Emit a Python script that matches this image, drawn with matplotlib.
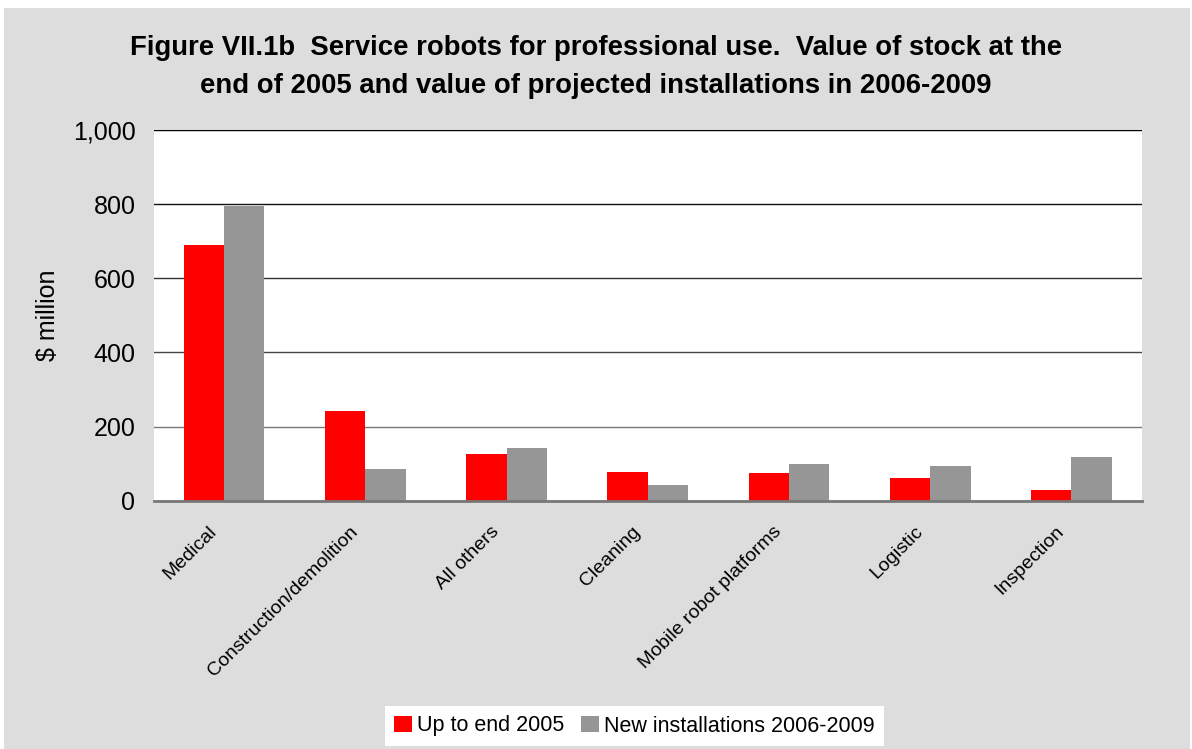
import numpy as np
import matplotlib.pyplot as plt
from matplotlib.patches import Rectangle
from matplotlib.transforms import ScaledTranslation

plt.rcParams['font.family'] = ['Liberation Sans', 'DejaVu Sans']

categories = ['Medical', 'Construction/demolition', 'All others', 'Cleaning',
              'Mobile robot platforms', 'Logistic', 'Inspection']
stock_2005 = [691, 242, 126, 78, 75, 61, 29]
new_2006_2009 = [794, 86, 142, 42, 99, 94, 118]
yticks = [0, 200, 400, 600, 800, 1000]
ytick_labels = ['0', '200', '400', '600', '800', '1,000']

fig = plt.figure(figsize=(11.92, 7.49), dpi=100)
fig.patch.set_facecolor('white')
# grey chart area inside a thin white margin
fig.patches.append(Rectangle((4 / 1192, 0), 1186 / 1192, 741 / 749,
                             transform=fig.transFigure, facecolor='#dddddd',
                             edgecolor='none', zorder=-5))

ax = fig.add_axes([153.5 / 1192, 1 - 500.7 / 749, (1142 - 153.5) / 1192, (500.7 - 130) / 749])
ax.set_facecolor('white')

x = np.arange(len(categories))
w = 1 / 3.5
ax.bar(x - w / 2, stock_2005, w, color='#ff0000', label='Up to end 2005', zorder=3)
ax.bar(x + w / 2, new_2006_2009, w, color='#969696', label='New installations 2006-2009', zorder=3)

ax.set_xlim(-0.5, len(categories) - 0.5)
ax.set_ylim(0, 1000)
ax.set_yticks(yticks)
ax.set_yticklabels(ytick_labels, fontsize=18)
ax.set_xticks(x)
ax.set_xticklabels(categories, rotation=45, ha='right', rotation_mode='anchor', fontsize=14)
ax.tick_params(length=0)
ax.tick_params(axis='y', pad=13)
ax.tick_params(axis='x', pad=12)

# slanted labels end a little left of the category centre
shift = ScaledTranslation(-16 / 100, -6 / 100, fig.dpi_scale_trans)
for lab in ax.get_xticklabels():
    lab.set_transform(lab.get_transform() + shift)

ax.yaxis.grid(True, linewidth=1.0, zorder=1)
grid_colors = ['#777777', '#777777', '#444444', '#333333', '#111111', '#000000']
for gl, c in zip(ax.get_ygridlines(), grid_colors):
    gl.set_color(c)
for s in ['left', 'right', 'top']:
    ax.spines[s].set_visible(False)
ax.spines['bottom'].set_color('#777777')
ax.spines['bottom'].set_linewidth(2)
ax.spines['bottom'].set_zorder(4)

ax.set_ylabel('$ million', fontsize=18, labelpad=9)

fig.text(0.5, 1 - 67 / 749,
         'Figure VII.1b  Service robots for professional use.  Value of stock at the\n'
         'end of 2005 and value of projected installations in 2006-2009',
         ha='center', va='center', fontsize=19.8, fontweight='bold', linespacing=1.6)

leg = fig.legend(loc='center', bbox_to_anchor=(634.5 / 1192, 1 - 726 / 749), ncol=2,
                 fontsize=15.5, frameon=True, fancybox=False, framealpha=1,
                 handlelength=0.8, handleheight=0.8, handletextpad=0.25,
                 columnspacing=0.8, borderpad=0.45, borderaxespad=0)
leg.get_frame().set_facecolor('white')
leg.get_frame().set_edgecolor('none')

fig.savefig('out.png', dpi=100)
